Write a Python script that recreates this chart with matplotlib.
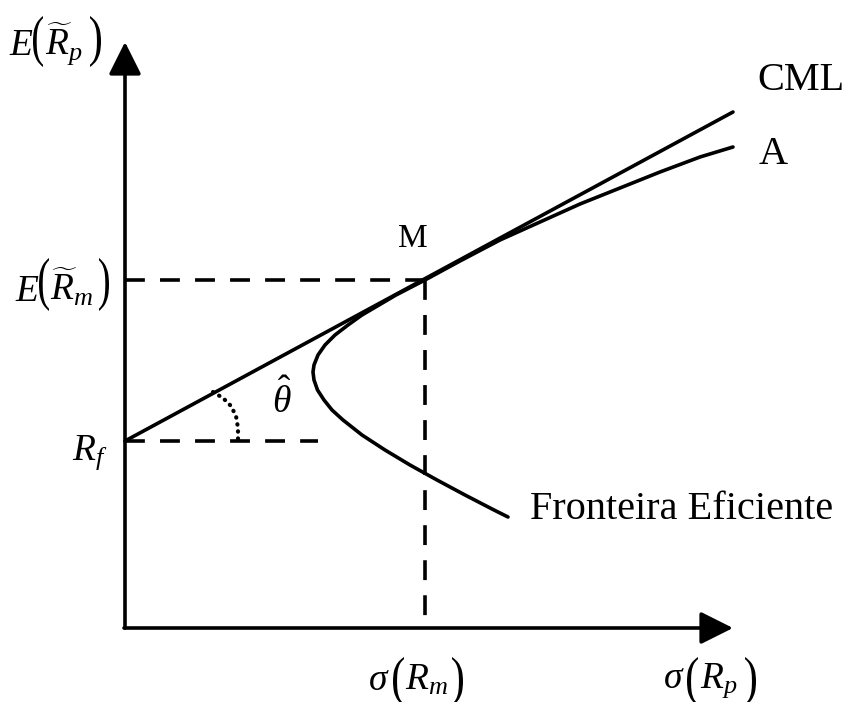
import numpy as np
import matplotlib
matplotlib.use("Agg")
import matplotlib.pyplot as plt
from matplotlib.textpath import TextPath
from matplotlib.patches import PathPatch
from matplotlib.font_manager import FontProperties
from matplotlib.transforms import Affine2D

plt.rcParams['font.family'] = ['Liberation Serif', 'DejaVu Serif']
plt.rcParams['mathtext.fontset'] = 'custom'
plt.rcParams['mathtext.rm'] = 'Liberation Serif'
plt.rcParams['mathtext.it'] = 'Liberation Serif:italic'

# picture read in pixel units (x to the right, y downwards)
origin = (125, 628)
y_axis_top = 42
x_axis_right = 733
rf = (125, 441)
market = (425, 280)
cml_end = (733, 112)

frontier_x = [733, 700, 660, 620, 580, 540, 500, 460, 425, 396, 379, 362, 348, 335,
              325, 318, 314, 313, 314, 317.5, 324, 332, 343, 362, 385, 410, 437,
              465, 494, 508]
frontier_y = [147, 157, 172, 188, 204, 222, 240, 261, 280, 295, 305, 315, 325, 335,
              345, 355, 365, 372, 380, 390, 400, 410, 420, 435, 450, 465, 480,
              495, 510, 517]

arc_x = [213, 223, 231, 236, 238, 238]
arc_y = [392, 398, 406, 416, 428, 440]

rf_dash_end = 318

fig = plt.figure(figsize=(8.48, 7.02), dpi=100)
ax = fig.add_axes([0, 0, 1, 1])
ax.set_xlim(0, 848)
ax.set_ylim(702, 0)
ax.axis('off')

lw = 2.6
# axes with arrow heads
head = '-|>,head_length=2.0,head_width=1.0'
ax.annotate('', xy=(origin[0], y_axis_top), xytext=origin,
            arrowprops=dict(arrowstyle=head, lw=lw, color='black', shrinkA=0, shrinkB=0))
ax.annotate('', xy=(x_axis_right, origin[1]), xytext=(origin[0] - 1, origin[1]),
            arrowprops=dict(arrowstyle=head, lw=lw, color='black', shrinkA=0, shrinkB=0))

# CML
ax.plot([rf[0], cml_end[0]], [rf[1], cml_end[1]], color='black', lw=lw,
        solid_capstyle='round')
# frontier
ax.plot(frontier_x, frontier_y, color='black', lw=lw, solid_capstyle='round',
        solid_joinstyle='round')

# dashed guides
dash = dict(color='black', lw=lw, dashes=(5.5, 4.2))
ax.plot([origin[0], market[0]], [market[1], market[1]], **dash)
ax.plot([market[0], market[0]], [market[1], origin[1]], **dash)
ax.plot([origin[0], rf_dash_end], [rf[1], rf[1]], **dash)

# angle arc
ax.plot(arc_x, arc_y, color='black', lw=3, linestyle=(0, (0.1, 1.6)),
        dash_capstyle='round')

fp = FontProperties(family='Liberation Serif')


def paren(ch, x0, x1, top, bottom):
    # tall, thin bracket: glyph stretched into the box
    p = TextPath((0, 0), ch, size=1, prop=fp)
    (xa, ya), (xb, yb) = p.get_extents().get_points()
    tr = (Affine2D().translate(-xa, -yb)
          .scale((x1 - x0) / (xb - xa), -(bottom - top) / (yb - ya))
          .translate(x0, top))
    ax.add_patch(PathPatch(tr.transform_path(p), facecolor='black', edgecolor='none'))


def label(parts, brackets, top, bottom, base):
    for s, x in parts:
        ax.text(x, base, s, fontsize=27, ha='left', va='baseline')
    paren('(', brackets[0], brackets[1], top, bottom)
    paren(')', brackets[2], brackets[3], top, bottom)


label([(r'$E$', 9), (r'$\widetilde{R}_{p}$', 45)], (33, 43, 90, 101), 16, 67, 55)
label([(r'$E$', 15), (r'$\widetilde{R}_{m}$', 50)], (39, 49, 99, 109), 258, 311, 301)
label([(r'$\sigma$', 368), (r'$R_{m}$', 405)], (393, 404, 452, 463), 657, 706, 690)
label([(r'$\sigma$', 663), (r'$R_{p}$', 700)], (687, 698, 745, 756), 657, 706, 688)
ax.text(72, 460, r'$R_{f}$', fontsize=27, ha='left', va='baseline')
ax.text(282, 400, r'$\hat{\theta}$', fontsize=27, ha='center', va='center')
ax.text(413, 247, 'M', fontsize=24, ha='center', va='baseline')
ax.text(757, 90, 'CML', fontsize=29, ha='left', va='baseline')
ax.text(759, 164, 'A', fontsize=29, ha='left', va='baseline')
ax.text(530, 519, 'Fronteira Eficiente', fontsize=29, ha='left', va='baseline')

fig.savefig('out.png', dpi=100)
